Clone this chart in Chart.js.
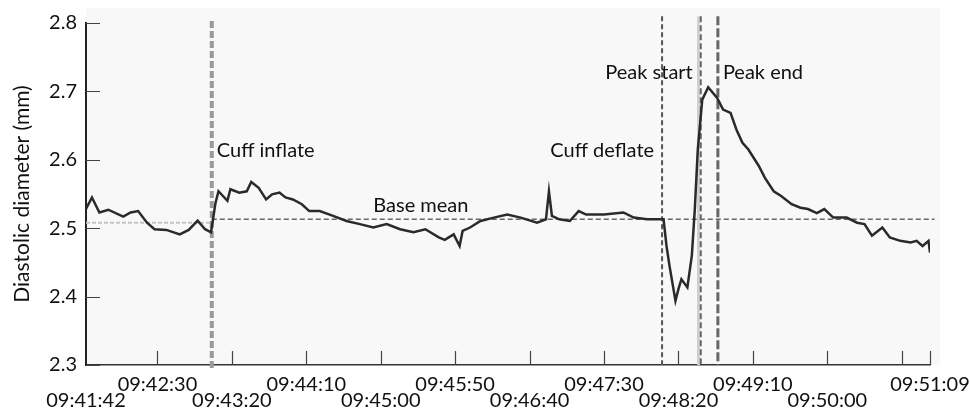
<!DOCTYPE html>
<html>
<head>
<meta charset="utf-8">
<script src="https://cdn.jsdelivr.net/npm/chart.js@4.4.1/dist/chart.umd.min.js"></script>
<style>
    html, body { margin: 0; padding: 0; background: #ffffff; }
    #chart { display: block; }
</style>
</head>
<body>
<canvas id="chart" width="970" height="412"></canvas>
<script>
// time axis is in seconds after 09:41:42
const seconds = [
    0, 4, 9, 15, 25, 30, 35, 41, 46, 54, 63, 69, 75, 80, 84,
    87, 89, 95, 97, 103, 108, 111, 116, 121, 125, 130, 134, 139, 145, 150,
    157, 166, 175, 184, 193, 202, 211, 220, 228, 237, 241, 247, 251, 253, 258,
    265, 274, 283, 292, 303, 309, 311, 313, 318, 325, 331, 336, 348, 361, 368,
    377, 388, 390, 392, 396, 398, 400, 404, 407, 409, 411, 414, 418, 424, 428,
    433, 437, 441, 445, 452, 456, 462, 467, 474, 480, 485, 491, 496, 502, 511,
    518, 523, 528, 535, 540, 547, 554, 558, 562, 566, 567
];
const diameter = [
    2.528, 2.545, 2.523, 2.527, 2.517, 2.523, 2.525, 2.508, 2.4985, 2.4975, 2.491, 2.4975, 2.511, 2.4985, 2.494,
    2.537, 2.554, 2.540, 2.557, 2.552, 2.554, 2.5675, 2.559, 2.542, 2.5495, 2.552, 2.545, 2.542, 2.535, 2.525,
    2.525, 2.518, 2.5105, 2.506, 2.501, 2.506, 2.4985, 2.494, 2.4985, 2.4865, 2.483, 2.491, 2.474, 2.496, 2.501,
    2.5105, 2.5155, 2.520, 2.5155, 2.508, 2.513, 2.554, 2.518, 2.513, 2.5105, 2.525, 2.520, 2.520, 2.523, 2.5155,
    2.513, 2.513, 2.474, 2.445, 2.394, 2.411, 2.4255, 2.4135, 2.46, 2.528, 2.615, 2.688, 2.706, 2.6905, 2.6735,
    2.6685, 2.644, 2.625, 2.615, 2.591, 2.574, 2.554, 2.547, 2.535, 2.530, 2.528, 2.522, 2.528, 2.5155, 2.5155,
    2.508, 2.506, 2.489, 2.501, 2.4865, 2.4815, 2.479, 2.4815, 2.474, 2.4815, 2.4645
];

const tickSeconds = [0, 48, 98, 148, 198, 248, 298, 348, 398, 448, 498, 548, 567];
const tickLabels = [
    '09:41:42', '09:42:30', '09:43:20', '09:44:10', '09:45:00', '09:45:50', '09:46:40',
    '09:47:30', '09:48:20', '09:49:10', '09:50:00', '', '09:51:09'
];
const tickLower = [1, 0, 1, 0, 1, 0, 1, 0, 1, 0, 1, 0, 0];

const eventNames = ['Cuff inflate', 'Cuff deflate', 'Peak start', 'Peak end'];
const eventSeconds = [84.5, 387, 413, 424.5];

const preInflateMean = 2.508;
const baseMean = 2.513;

const FONT = 'Lato';

function vline(t, y0, y1, color, width, dash) {
    return {
        data: [{ x: t, y: y0 }, { x: t, y: y1 }],
        borderColor: color,
        borderWidth: width,
        borderDash: dash,
        pointRadius: 0,
        clip: false,
        order: 2
    };
}

function hline(x0, x1, y, color, width, dash) {
    return {
        data: [{ x: x0, y: y }, { x: x1, y: y }],
        borderColor: color,
        borderWidth: width,
        borderDash: dash,
        pointRadius: 0,
        clip: false,
        order: 3
    };
}

// where each event name sits (value axis) and on which side of its line
const eventLabelSpots = [
    { at: 0, y: 2.613, align: 'left' },
    { at: 1, y: 2.613, align: 'right' },
    { at: 2, y: 2.7275, align: 'right' },
    { at: 3, y: 2.7275, align: 'left' }
];

const overlay = {
    id: 'overlay',
    beforeDraw(chart) {
        const { ctx, chartArea } = chart;
        ctx.save();
        ctx.fillStyle = '#f8f8f8';
        ctx.fillRect(chartArea.left, 8, chartArea.right - chartArea.left + 10, chartArea.bottom - 8);
        ctx.restore();
    },
    afterDatasetsDraw(chart) {
        const { ctx, chartArea, scales } = chart;
        const xs = scales.x;
        const ys = scales.y;
        ctx.save();
        // inward tick marks
        ctx.strokeStyle = '#444';
        ctx.lineWidth = 1.2;
        ctx.beginPath();
        ys.ticks.forEach(t => {
            const py = Math.round(ys.getPixelForValue(t.value)) + 0.5;
            ctx.moveTo(chartArea.left, py);
            ctx.lineTo(chartArea.left + 14, py);
        });
        xs.ticks.forEach(t => {
            if (t.value === 0) return;
            const px = Math.round(xs.getPixelForValue(t.value)) + 0.5;
            ctx.moveTo(px, chartArea.bottom);
            ctx.lineTo(px, chartArea.bottom - 14);
        });
        ctx.stroke();

        // event labels
        ctx.font = '20px ' + FONT;
        ctx.fillStyle = '#111';
        ctx.textBaseline = 'middle';
        eventLabelSpots.forEach(s => {
            const px = xs.getPixelForValue(eventSeconds[s.at]);
            const py = ys.getPixelForValue(s.y);
            ctx.textAlign = s.align;
            ctx.fillText(eventNames[s.at], s.align === 'left' ? px + 5 : px - 8, py);
        });
        ctx.textAlign = 'left';
        ctx.fillText('Base mean', xs.getPixelForValue(193), ys.getPixelForValue(2.533));
        ctx.restore();
    }
};

const datasets = [
    {
        data: seconds.map((s, i) => ({ x: s, y: diameter[i] })),
        borderColor: '#2a2a2a',
        borderWidth: 2.5,
        pointRadius: 0,
        tension: 0,
        order: 0
    },
    hline(0, eventSeconds[0], preInflateMean, '#c4c4c4', 2, [4, 2]),
    hline(eventSeconds[0], 570, baseMean, '#666666', 1.5, [5, 3]),
    vline(eventSeconds[0], 2.803, 2.2925, '#9a9a9a', 4, [7, 3]),
    vline(eventSeconds[1], 2.81, 2.3, '#555555', 2, [5, 3]),
    vline(eventSeconds[2], 2.81, 2.3, '#666666', 2, [6, 3]),
    vline(eventSeconds[2] - 1.5, 2.81, 2.3, '#d0d0d0', 3, []),
    vline(eventSeconds[3], 2.81, 2.3, '#666666', 3, [9, 3])
];

new Chart(document.getElementById('chart'), {
    type: 'line',
    data: { datasets: datasets },
    options: {
        responsive: false,
        animation: false,
        layout: { padding: { left: 0, top: 23, right: 40, bottom: 0 } },
        plugins: {
            legend: { display: false },
            tooltip: { enabled: false }
        },
        scales: {
            x: {
                type: 'linear',
                min: 0,
                max: 567,
                afterBuildTicks: scale => {
                    scale.ticks = tickSeconds.map(v => ({ value: v }));
                },
                afterFit: scale => {
                    scale.height = 47;
                    scale.paddingLeft = 0;
                    scale.paddingRight = 0;
                },
                grid: { display: false, drawTicks: false },
                border: { display: true, color: '#333', width: 1.5 },
                ticks: {
                    autoSkip: false,
                    maxRotation: 0,
                    padding: 12,
                    color: '#111',
                    font: { family: FONT, size: 20, lineHeight: 0.8 },
                    callback: (value, i) => tickLower[i] ? ['', tickLabels[i]] : [tickLabels[i], '']
                }
            },
            y: {
                min: 2.3,
                max: 2.8,
                afterFit: scale => { scale.width = 86; },
                grid: { display: false, drawTicks: false },
                border: { display: true, color: '#222', width: 2 },
                ticks: {
                    stepSize: 0.1,
                    padding: 9,
                    color: '#111',
                    font: { family: FONT, size: 20 },
                    callback: v => v.toFixed(1)
                },
                title: {
                    display: true,
                    text: 'Diastolic diameter (mm)',
                    color: '#111',
                    font: { family: FONT, size: 21 },
                    padding: { top: 10, bottom: 0 }
                }
            }
        }
    },
    plugins: [overlay]
});
</script>
</body>
</html>
